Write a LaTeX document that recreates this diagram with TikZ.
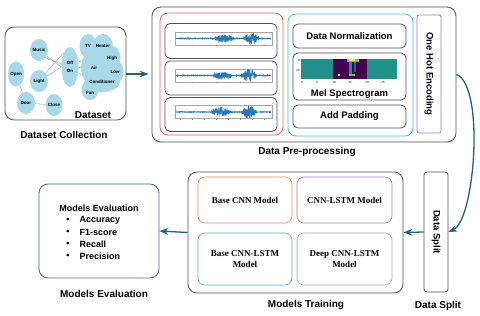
\documentclass[tikz,border=0pt]{standalone}
\usepackage{fontspec}
\setmainfont{Liberation Sans}
\newfontfamily\modelfont{Liberation Serif}
\usetikzlibrary{arrows.meta, positioning, shapes.geometric}

\definecolor{outline}{HTML}{505050}
\definecolor{flowcol}{HTML}{1F6288}
\definecolor{bubble}{HTML}{A9D8E8}
\definecolor{redbox}{HTML}{F05A5A}
\definecolor{bluebox}{HTML}{45BDEA}
\definecolor{purplebox}{HTML}{A574D2}
\definecolor{orangebox}{HTML}{E58D55}
\definecolor{modelblue}{HTML}{5AAAD2}
\definecolor{wavecol}{HTML}{2878B4}
\definecolor{vteal}{HTML}{21918C}
\definecolor{vpurple}{HTML}{440154}
\definecolor{vgreen}{HTML}{5EC962}
\definecolor{vyellow}{HTML}{FDE725}

% one waveform panel: y centre, burst 1 x, burst 2 x, amplitude 1, amplitude 2 (x relative to 176)
\newcommand{\wavetrace}[5]{%
  \draw[gray!70, line width=0.3pt] (175,#1-6.5) rectangle (272,#1+6.5);
  \foreach \tx in {180,192,...,270} \draw[gray, line width=0.2pt] (\tx,#1+6.5) -- (\tx,#1+7.5);
  \draw[wavecol, line width=0.45pt] plot[domain=0:95, samples=800]
    (176+\x, {#1 + (0.35 + #4*max(0,1-((\x-#2)/10)^2) + #5*max(0,1-((\x-#3)/8)^2))*(2*rnd-1)});
}

\begin{document}
\pgfmathsetseed{7}
\begin{tikzpicture}[x=1pt, y=-1pt, >=Stealth, font=\bfseries,
    panel/.style={draw=outline, rounded corners=9pt, line width=0.8pt, inner sep=0pt},
    subpanel/.style={draw=outline, rounded corners=5pt, line width=0.8pt, inner sep=0pt},
    framebox/.style={rounded corners=8pt, line width=0.8pt, inner sep=0pt},
    modelbox/.style={rounded corners=7pt, line width=0.6pt, inner sep=0pt, align=center,
      font=\modelfont\bfseries\fontsize{9}{10.5}\selectfont},
    bub/.style={ellipse, fill=bubble, inner sep=0pt, font=\bfseries\fontsize{4.5}{5}\selectfont},
    edge/.style={gray!70, line width=0.5pt},
    flow/.style={->, draw=flowcol, line width=1.3pt},
    caption/.style={font=\bfseries\fontsize{10}{12}\selectfont},
    boxtext/.style={font=\bfseries\fontsize{9.5}{11}\selectfont},
    listtext/.style={font=\bfseries\fontsize{9}{10}\selectfont},
    ticklbl/.style={font=\fontsize{3}{3.5}\selectfont, inner sep=0pt}
  ]
  \useasboundingbox (0,0) rectangle (480,316);

  % Dataset collection
  \node[panel, minimum width=121pt, minimum height=93pt] (dataset) at (65.5,73.5) {};
  \node[caption, anchor=south] (datasetlbl) at (93,122) {Dataset};
  \node[caption] (collectlbl) at (64,135) {Dataset Collection};

  % keyword bubbles
  \node[bub, minimum width=18pt, minimum height=22pt] (music) at (39,50) {Music};
  \node[bub, minimum width=18pt, minimum height=22pt] (light) at (39,81) {Light};
  \node[bub, minimum width=16pt, minimum height=25pt] (open) at (16,74) {Open};
  \node[bub, minimum width=18pt, minimum height=22pt] (door) at (26,103) {Door};
  \node[bub, minimum width=17pt, minimum height=22pt] (close) at (54,105) {Close};
  \node[bub, minimum width=17pt, minimum height=40pt, align=center] (offon) at (70,67) {Off\\[3pt]On};
  \node[bub, minimum width=26pt, minimum height=34pt] (air) at (94,68) {Air};
  \node[bub, minimum width=17pt, minimum height=24pt] (tv) at (88,46) {TV};
  \node[bub, minimum width=19pt, minimum height=24pt] (heater) at (103,46) {Heater};
  \node[bub, minimum width=17pt, minimum height=24pt] (high) at (112,58) {High};
  \node[bub, minimum width=17pt, minimum height=24pt] (low) at (115,72) {Low};
  \node[bub, minimum width=17pt, minimum height=20pt] (fan) at (90,90) {};
  \node[bub, minimum width=30pt, minimum height=20pt] (cond) at (102,82) {Conditioner};
  \node[bub, inner sep=0pt] (fanlbl) at (90,93) {Fan};

  \draw[edge] (music) -- (offon.west);
  \draw[edge] (music.south east) -- (offon);
  \draw[edge] (light) -- (offon.west);
  \draw[edge] (light.north east) -- (offon.north west);
  \draw[edge] (open) -- (door);
  \draw[edge] (door) -- (close);
  \draw[edge] ([yshift=-6pt]offon.east) -- ([yshift=-6pt]air.west);
  \draw[edge] ([yshift=6pt]offon.east) -- ([yshift=6pt]air.west);
  \draw[edge] (offon.east) -- (air.west);

  % Data pre-processing
  \node[panel, minimum width=304pt, minimum height=135pt] (prep) at (304,74.5) {};
  \node[caption] (preplbl) at (307,152) {Data Pre-processing};

  \node[framebox, draw=redbox, minimum width=123pt, minimum height=122pt] (wavegroup) at (221.5,74) {};
  \node[subpanel, minimum width=112pt, minimum height=35pt] (wave1) at (221,41) {};
  \node[subpanel, minimum width=112pt, minimum height=34pt] (wave2) at (221,78) {};
  \node[subpanel, minimum width=112pt, minimum height=34pt] (wave3) at (221,114.5) {};
  \wavetrace{38.5}{48}{75}{3.8}{5.5}
  \wavetrace{75.5}{46}{73}{3}{5.8}
  \wavetrace{112}{45}{73}{4.5}{6}

  \node[framebox, draw=bluebox, minimum width=125pt, minimum height=122pt] (stepgroup) at (350.5,75) {};
  \node[subpanel, minimum width=113pt, minimum height=24pt, boxtext] (norm) at (349.5,36) {Data Normalization};
  \node[subpanel, minimum width=113pt, minimum height=47pt] (mel) at (349.5,76.5) {};
  \node[subpanel, minimum width=113pt, minimum height=23pt, boxtext] (pad) at (349.5,116.5) {Add Padding};
  \node[boxtext] (mellbl) at (349.5,94.5) {Mel Spectrogram};

  % spectrogram image
  \fill[vteal] (301,59) rectangle (397,79);
  \fill[vpurple] (333,59) rectangle (367,79);
  \fill[vgreen] (347,59) rectangle (359,62);
  \fill[vyellow] (349,59) rectangle (355,61);
  \fill[vteal] (349,62) rectangle (352,75);
  \fill[vteal!70!vpurple] (354,62) rectangle (356,72);
  \fill[vgreen] (349,74) rectangle (355,76);
  \fill[vyellow] (338,74) rectangle (339.5,75.5);
  \node[ticklbl, anchor=north] (t0) at (302,81) {0};
  \node[ticklbl, anchor=north] (t5) at (317,81) {5};
  \node[ticklbl, anchor=north] (t10) at (334,81) {10};
  \node[ticklbl, anchor=north] (t15) at (350,81) {15};
  \node[ticklbl, anchor=north] (t20) at (367,81) {20};
  \node[ticklbl, anchor=north] (t25) at (383,81) {25};
  \node[ticklbl, anchor=east] (y0) at (300,60) {0};
  \node[ticklbl, anchor=east] (y20) at (300,70) {20};

  \node[framebox, draw=purplebox, rounded corners=2pt, minimum width=24pt, minimum height=118pt] (onehot) at (429,74) {};
  \node[boxtext, rotate=-90] (onehotlbl) at (onehot) {One Hot Encoding};

  % Data split
  \node[subpanel, rounded corners=3pt, minimum width=24pt, minimum height=120pt] (split) at (436,232) {};
  \node[boxtext, rotate=-90] (splitlbl) at (split) {Data Split};
  \node[caption] (splitcap) at (438,306) {Data Split};

  % Models training
  \node[panel, minimum width=215pt, minimum height=121pt] (train) at (295.5,232.5) {};
  \node[caption] (trainlbl) at (306,305) {Models Training};
  \node[modelbox, draw=orangebox, minimum width=94pt, minimum height=46pt] (basecnn) at (245,200) {Base CNN Model};
  \node[modelbox, draw=purplebox, minimum width=95pt, minimum height=46pt] (cnnlstm) at (344.5,200) {CNN-LSTM Model};
  \node[modelbox, draw=modelblue, minimum width=94pt, minimum height=52pt] (basecnnlstm) at (245,259) {Base CNN-LSTM\\Model};
  \node[modelbox, draw=gray!70, minimum width=95pt, minimum height=52pt] (deepcnnlstm) at (344.5,259) {Deep CNN-LSTM\\Model};

  % Models evaluation
  \node[panel, draw=flowcol!70!gray, minimum width=120pt, minimum height=94pt] (eval) at (99,231) {};
  \node[listtext] (evaltitle) at (99,208) {Models Evaluation};
  \node[listtext] (b1) at (68,220) {•};
  \node[listtext] (b2) at (68,232) {•};
  \node[listtext] (b3) at (68,244) {•};
  \node[listtext] (b4) at (68,256) {•};
  \node[listtext, anchor=west] (m1) at (76,220) {Accuracy};
  \node[listtext, anchor=west] (m2) at (76,232) {F1-score};
  \node[listtext, anchor=west] (m3) at (76,244) {Recall};
  \node[listtext, anchor=west] (m4) at (76,256) {Precision};
  \node[caption] (evalcap) at (104,294) {Models Evaluation};

  % Flow arrows
  \draw[flow, shorten >=3pt] (dataset.east |- 0,74) -- (prep.west |- 0,74);
  \draw[flow] (prep.east) .. controls (485,85) and (475,220) .. (split.east);
  \draw[flow] (split.west) -- (train.east);
  \draw[flow] (train.west) -- (eval.east);

\end{tikzpicture}
\end{document}
